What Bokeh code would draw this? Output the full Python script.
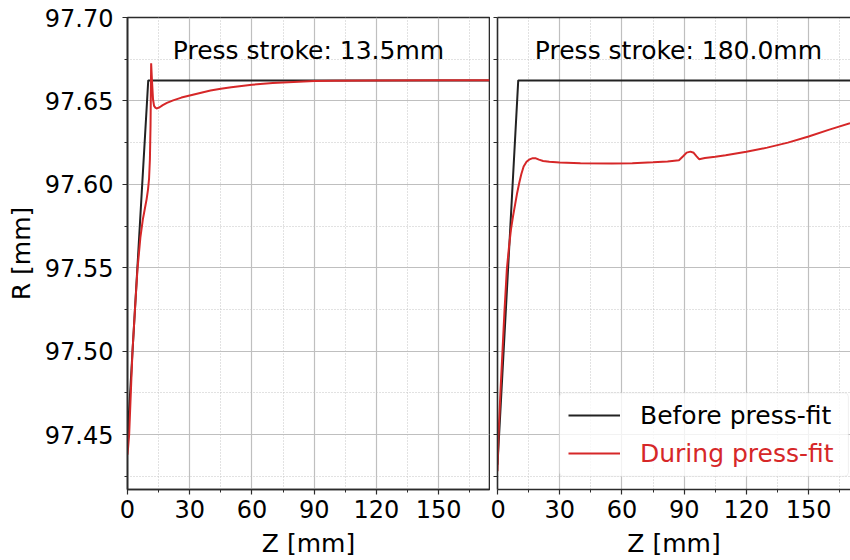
import numpy as np
from bokeh.plotting import figure
from bokeh.models import (Range1d, FixedTicker, PrintfTickFormatter, Label,
                          Legend, LegendItem, LinearAxis, BoxAnnotation)
from bokeh.layouts import row
from bokeh.embed import file_html
from bokeh.resources import INLINE

# ---------------- data ----------------
x_ticks = [0, 30, 60, 90, 120, 150]
x_minor_ticks = [15, 45, 75, 105, 135, 165]
y_ticks = [97.45, 97.50, 97.55, 97.60, 97.65, 97.70]
y_minor_ticks = [97.425, 97.475, 97.525, 97.575, 97.625, 97.675]
panel_titles = ["Press stroke: 13.5mm", "Press stroke: 180.0mm"]
series_names = ["Before press-fit", "During press-fit"]
x_label = "Z [mm]"
y_label = "R [mm]"

# left panel (stroke 13.5 mm)
z_before_left = [0.0, 10.0, 174.5]
r_before_left = [97.448, 97.6623, 97.6623]
z_during_left = [0.0, 0.8, 1.6, 2.4, 3.6, 4.8, 6.2, 7.4, 8.0, 8.6, 9.2, 9.9, 10.4,
                 10.8, 11.1, 11.4, 11.8, 12.3, 12.8, 13.5, 14.2, 15.5, 17, 19, 22,
                 26, 30, 35, 40, 45, 50, 55, 60, 70, 80, 90, 100, 120, 150, 174.5]
r_during_left = [97.438, 97.450, 97.475, 97.500, 97.525, 97.549, 97.568, 97.579,
                 97.583, 97.587, 97.591, 97.597, 97.6035, 97.615, 97.635, 97.6726,
                 97.662, 97.651, 97.647, 97.6458, 97.6455, 97.6462, 97.6475,
                 97.6488, 97.6503, 97.6520, 97.6533, 97.6548, 97.6562, 97.6573,
                 97.6582, 97.6590, 97.6597, 97.6607, 97.6614, 97.6619, 97.6621,
                 97.6623, 97.6624, 97.6624]

# right panel (stroke 180.0 mm)
z_before_right = [0.0, 10.0, 174.5]
r_before_right = [97.432, 97.6623, 97.6623]
z_during_right = [0.0, 0.5, 1.4, 2.4, 3.4, 4.5, 5.5, 6.5, 7.5, 8.5, 9.5, 10.5,
                  11.5, 12.6, 14, 15.5, 17, 18.5, 20, 22, 25, 30, 40, 55, 65, 75,
                  82, 87.5, 89.5, 91.2, 93, 94.6, 96, 97.2, 100, 105, 110, 120,
                  130, 140, 150, 160, 170, 174.5]
r_during_right = [97.428, 97.450, 97.475, 97.500, 97.525, 97.549, 97.562, 97.573,
                  97.581, 97.588, 97.595, 97.601, 97.6062, 97.6107, 97.6135,
                  97.6150, 97.6157, 97.6156, 97.6148, 97.6140, 97.6135, 97.6131,
                  97.6127, 97.6125, 97.6127, 97.6132, 97.6137, 97.6145, 97.6168,
                  97.6190, 97.6196, 97.6189, 97.6168, 97.6151, 97.6158, 97.6166,
                  97.6175, 97.6195, 97.6220, 97.6250, 97.6287, 97.6328, 97.6366,
                  97.6385]

# ---------------- style ----------------
FONT = "DejaVu Sans"
BLACK = "#222222"
RED = "#d62728"
SPINE = "#2b2b2b"
GRID = "#bfbfbf"
MINOR_GRID = "#c4c4c4"

y_range = Range1d(97.4171, 97.70)


def style_axis(ax):
    ax.axis_line_color = SPINE
    ax.axis_line_width = 1.6
    ax.major_tick_line_color = SPINE
    ax.minor_tick_line_color = SPINE
    ax.major_tick_line_width = 1.2
    ax.minor_tick_line_width = 1
    ax.major_tick_out = 5
    ax.major_tick_in = 0
    ax.minor_tick_out = 3
    ax.minor_tick_in = 0
    ax.major_label_text_font = FONT
    ax.major_label_text_font_size = "24px"
    ax.major_label_text_color = "black"
    ax.axis_label_text_font = FONT
    ax.axis_label_text_font_size = "25px"
    ax.axis_label_text_font_style = "normal"
    ax.axis_label_text_color = "black"


def style_common(p):
    p.background_fill_color = "white"
    p.border_fill_color = "white"
    for g in p.xgrid + p.ygrid:
        g.grid_line_color = GRID
        g.grid_line_width = 1.2
        g.minor_grid_line_color = MINOR_GRID
        g.minor_grid_line_width = 1
        g.minor_grid_line_dash = "1 2"
    p.xgrid.ticker = FixedTicker(ticks=x_ticks, minor_ticks=x_minor_ticks)
    p.ygrid.ticker = FixedTicker(ticks=y_ticks, minor_ticks=y_minor_ticks)
    for ax in p.xaxis:
        style_axis(ax)
        ax.ticker = FixedTicker(ticks=x_ticks, minor_ticks=x_minor_ticks)
        ax.major_label_standoff = 5
        ax.axis_label = x_label
        ax.axis_label_standoff = 8


# ---------------- left panel ----------------
p1 = figure(width=490, height=560, x_range=Range1d(0, 174.5), y_range=y_range,
            output_backend="svg", toolbar_location=None,
            min_border_left=127, min_border_right=1, min_border_top=17,
            min_border_bottom=69)
style_common(p1)
p1.outline_line_color = SPINE
p1.outline_line_width = 1.6
for ax in p1.yaxis:
    style_axis(ax)
    ax.ticker = FixedTicker(ticks=y_ticks, minor_ticks=y_minor_ticks)
    ax.formatter = PrintfTickFormatter(format="%.2f")
    ax.axis_label = y_label
    ax.major_label_standoff = 9
    ax.axis_label_standoff = 6

p1.line(z_before_left, r_before_left, line_color=BLACK, line_width=2)
p1.line(z_during_left, r_during_left, line_color=RED, line_width=2)
p1.add_layout(Label(x=87.25, y=97.680, text=panel_titles[0], text_align="center",
                    text_baseline="alphabetic", text_font=FONT,
                    text_font_size="25px", text_color="black"))

# ---------------- right panel ----------------
p2 = figure(width=360, height=560, x_range=Range1d(0, 170.2), y_range=y_range,
            output_backend="svg", toolbar_location=None, y_axis_location=None,
            min_border_left=7, min_border_right=0, min_border_top=17,
            min_border_bottom=69)
style_common(p2)
p2.outline_line_color = None

# left spine of the right panel: ticks only, no labels
left_axis = LinearAxis(ticker=FixedTicker(ticks=[], minor_ticks=sorted(y_ticks + y_minor_ticks)))
style_axis(left_axis)
left_axis.minor_tick_out = 4
left_axis.major_label_standoff = 0
p2.add_layout(left_axis, "left")

# top spine of the right panel
top_axis = LinearAxis(ticker=FixedTicker(ticks=[], minor_ticks=[]))
style_axis(top_axis)
top_axis.major_label_standoff = 0
top_axis.major_tick_out = 0
top_axis.minor_tick_out = 0
p2.add_layout(top_axis, "above")

rb = p2.line(z_before_right, r_before_right, line_color=BLACK, line_width=2)
rr = p2.line(z_during_right, r_during_right, line_color=RED, line_width=2)
p2.add_layout(Label(x=87.25, y=97.680, text=panel_titles[1], text_align="center",
                    text_baseline="alphabetic", text_font=FONT,
                    text_font_size="25px", text_color="black"))

# legend frame
p2.add_layout(BoxAnnotation(left=29.9, right=169.2, bottom=97.425, top=97.475,
                            fill_color="white", fill_alpha=0.8,
                            line_color="#cccccc", line_width=1, border_radius=4,
                            level="annotation"))

common = dict(padding=0, spacing=0, glyph_width=52, glyph_height=30,
              label_height=30, label_standoff=20, margin=0,
              border_line_color=None, background_fill_alpha=0,
              label_text_font=FONT, label_text_font_size="25px")

legB = Legend(items=[LegendItem(label=series_names[0], renderers=[rb])],
              location=(71, 59), label_text_color="black", **common)
legC = Legend(items=[LegendItem(label=series_names[1], renderers=[rr])],
              location=(71, 21), label_text_color=RED, **common)
p2.add_layout(legB)
p2.add_layout(legC)

layout = row(p1, p2)
open("out.html", "w").write(file_html(layout, INLINE))
